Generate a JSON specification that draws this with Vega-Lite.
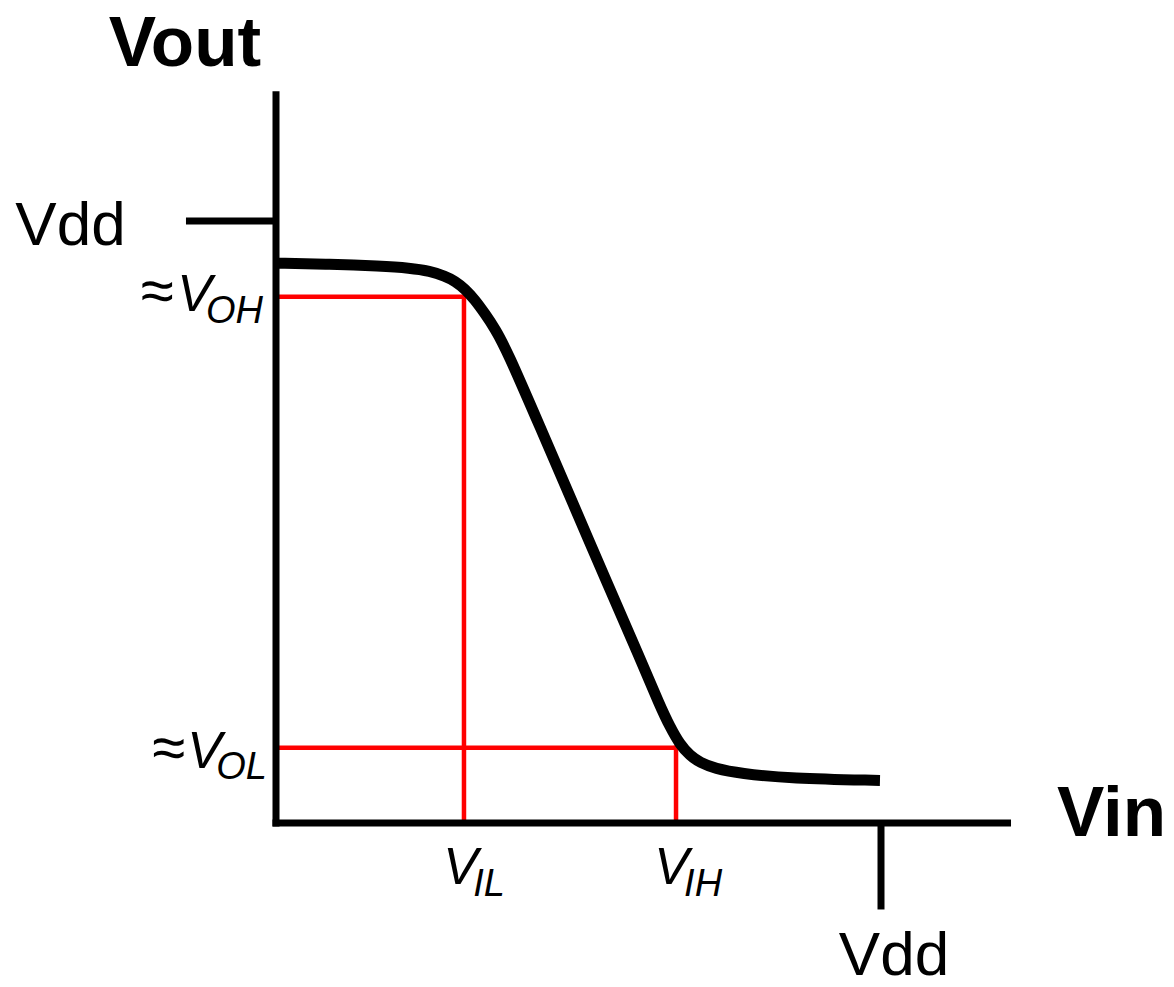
{
  "$schema": "https://vega.github.io/schema/vega-lite/v6.json",
  "width": 1174,
  "height": 987,
  "autosize": {"type": "fit", "contains": "padding"},
  "padding": 0,
  "background": "white",
  "config": {"view": {"stroke": null}},
  "encoding": {
    "x": {"field": "x", "type": "quantitative", "scale": {"domain": [-0.4562, 1.4843], "nice": false, "zero": false}, "axis": null},
    "y": {"field": "y", "type": "quantitative", "scale": {"domain": [-0.26051, 1.36686], "nice": false, "zero": false}, "axis": null}
  },
  "layer": [
    {
      "data": {"values": [
        {"x": 0, "y": 0.8739, "x2": 0.3144, "y2": 0.8739},
        {"x": 0.3107, "y": 0, "x2": 0.3107, "y2": 0.8776},
        {"x": 0, "y": 0.1253, "x2": 0.6649, "y2": 0.1253},
        {"x": 0.6612, "y": 0, "x2": 0.6612, "y2": 0.1290}
      ]},
      "mark": {"type": "rule", "color": "#ff0000", "strokeWidth": 4.5, "strokeCap": "butt"},
      "encoding": {"x2": {"field": "x2"}, "y2": {"field": "y2"}}
    },
    {
      "data": {"values": [
        {"x": 0, "y": -0.0058, "x2": 0, "y2": 1.2152},
        {"x": -0.0058, "y": 0, "x2": 1.2149, "y2": 0},
        {"x": -0.1488, "y": 1, "x2": 0, "y2": 1},
        {"x": 1, "y": 0, "x2": 1, "y2": -0.1434}
      ]},
      "mark": {"type": "rule", "color": "black", "strokeWidth": 7, "strokeCap": "butt"},
      "encoding": {"x2": {"field": "x2"}, "y2": {"field": "y2"}}
    },
    {
      "data": {"values": [
        {"x": 0, "y": 0.9299},
        {"x": 0.0893, "y": 0.9283},
        {"x": 0.1719, "y": 0.9250},
        {"x": 0.2215, "y": 0.9217},
        {"x": 0.2545, "y": 0.9167},
        {"x": 0.2793, "y": 0.9085},
        {"x": 0.2959, "y": 0.9002},
        {"x": 0.3124, "y": 0.8871},
        {"x": 0.3289, "y": 0.8689},
        {"x": 0.3455, "y": 0.8458},
        {"x": 0.3620, "y": 0.8211},
        {"x": 0.3818, "y": 0.7848},
        {"x": 0.4364, "y": 0.6579},
        {"x": 0.4909, "y": 0.5309},
        {"x": 0.5471, "y": 0.3990},
        {"x": 0.6017, "y": 0.2737},
        {"x": 0.6347, "y": 0.1946},
        {"x": 0.6512, "y": 0.1599},
        {"x": 0.6678, "y": 0.1303},
        {"x": 0.6843, "y": 0.1121},
        {"x": 0.7008, "y": 0.1006},
        {"x": 0.7256, "y": 0.0907},
        {"x": 0.7669, "y": 0.0824},
        {"x": 0.8496, "y": 0.0742},
        {"x": 0.9983, "y": 0.0709}
      ]},
      "mark": {"type": "line", "color": "black", "strokeWidth": 11, "strokeCap": "butt", "interpolate": "basis"}
    },
    {
      "data": {"values": [
        {"t": "Vout", "x": -0.1504, "y": 1.2580},
        {"t": "Vin", "x": 1.3810, "y": -0.0214}
      ]},
      "mark": {"type": "text", "font": "Liberation Sans", "fontWeight": "bold", "fontSize": 71, "align": "center", "baseline": "alphabetic", "color": "black"},
      "encoding": {"text": {"field": "t", "type": "nominal"}}
    },
    {
      "data": {"values": [
        {"t": "Vdd", "x": -0.3397, "y": 0.9596},
        {"t": "Vdd", "x": 1.0215, "y": -0.2514}
      ]},
      "mark": {"type": "text", "font": "Liberation Sans", "fontSize": 62, "align": "center", "baseline": "alphabetic", "color": "black"},
      "encoding": {"text": {"field": "t", "type": "nominal"}}
    },
    {
      "data": {"values": [
        {"t": "≈", "x": -0.1959, "y": 0.8508},
        {"t": "≈", "x": -0.1769, "y": 0.0923}
      ]},
      "mark": {"type": "text", "font": "Liberation Sans", "fontSize": 60, "align": "center", "baseline": "alphabetic", "color": "black"},
      "encoding": {"text": {"field": "t", "type": "nominal"}}
    },
    {
      "data": {"values": [
        {"t": "V", "x": -0.1347, "y": 0.8508},
        {"t": "V", "x": -0.1182, "y": 0.0923},
        {"t": "V", "x": 0.3050, "y": -0.1006},
        {"t": "V", "x": 0.6537, "y": -0.1006}
      ]},
      "mark": {"type": "text", "font": "Liberation Sans", "fontStyle": "italic", "fontSize": 52, "align": "center", "baseline": "alphabetic", "color": "black"},
      "encoding": {"text": {"field": "t", "type": "nominal"}}
    },
    {
      "data": {"values": [
        {"t": "OH", "x": -0.0686, "y": 0.8310},
        {"t": "OL", "x": -0.0570, "y": 0.0725},
        {"t": "IL", "x": 0.3521, "y": -0.1204},
        {"t": "IH", "x": 0.7059, "y": -0.1204}
      ]},
      "mark": {"type": "text", "font": "Liberation Sans", "fontStyle": "italic", "fontSize": 38, "align": "center", "baseline": "alphabetic", "color": "black"},
      "encoding": {"text": {"field": "t", "type": "nominal"}}
    }
  ]
}
